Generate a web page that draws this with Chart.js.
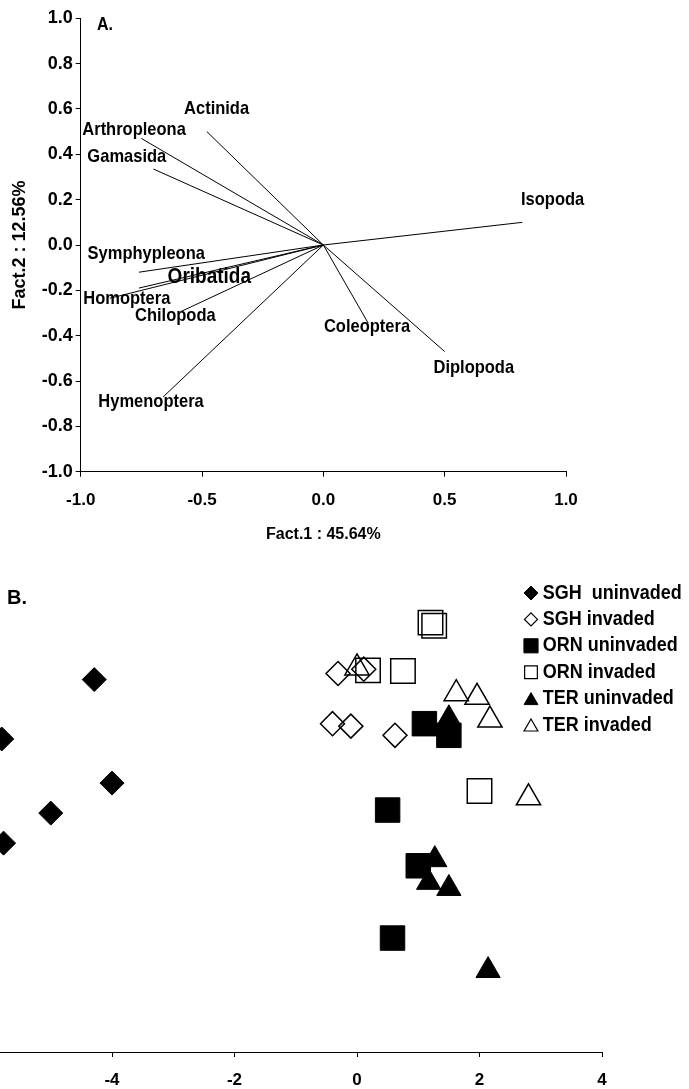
<!DOCTYPE html>
<html>
<head>
<meta charset="utf-8">
<script src="https://cdn.jsdelivr.net/npm/chart.js@4.4.0/dist/chart.umd.min.js"></script>
<style>
  html, body { margin: 0; padding: 0; background: #fff; overflow: hidden; }
  #wrap { position: relative; width: 689px; height: 1089px; overflow: hidden; background: #fff; }
  #chartA { position: absolute; left: 0; top: 0; }
  #chartB { position: absolute; left: -40px; top: 570px; }
</style>
</head>
<body>
<div id="wrap">
  <canvas id="chartA" width="689" height="560" style="width:689px;height:560px"></canvas>
  <canvas id="chartB" width="729" height="519" style="width:729px;height:519px"></canvas>
</div>
<script>
// A. loadings of each taxon on factor 1 and factor 2
const taxa = ["Actinida", "Arthropleona", "Gamasida", "Symphypleona", "Oribatida", "Homoptera",
  "Chilopoda", "Hymenoptera", "Isopoda", "Coleoptera", "Diplopoda"];
const fact1 = [-0.48, -0.75, -0.70, -0.76, -0.76, -0.88, -0.59, -0.66, 0.82, 0.185, 0.50];
const fact2 = [0.50, 0.47, 0.335, -0.12, -0.19, -0.235, -0.295, -0.67, 0.10, -0.345, -0.47];
// where each name is written, in factor units
const labelX = [-0.44, -0.78, -0.81, -0.73, -0.47, -0.81, -0.61, -0.71, 0.945, 0.18, 0.62];
const labelY = [0.60, 0.51, 0.39, -0.04, -0.14, -0.235, -0.31, -0.69, 0.20, -0.36, -0.54];

// B. site scores
const groups = ["SGH  uninvaded", "SGH invaded", "ORN uninvaded", "ORN invaded", "TER uninvaded", "TER invaded"];
const sghUninvX = [-4.29, -5.80, -4.00, -5.00, -5.77];
const sghUninvY = [2.08, 1.11, 0.39, -0.10, -0.59];
const sghInvX = [-0.31, 0.11, -0.40, -0.10, 0.62];
const sghInvY = [2.18, 2.25, 1.36, 1.32, 1.17];
const ornUninvX = [1.10, 1.50, 0.50, 1.00, 0.58];
const ornUninvY = [1.36, 1.17, -0.05, -0.96, -2.14];
const ornInvX = [1.20, 1.26, 0.18, 0.75, 2.00];
const ornInvY = [3.01, 2.96, 2.23, 2.22, 0.26];
const terUninvX = [1.50, 1.27, 1.17, 1.50, 2.14];
const terUninvY = [1.44, -0.86, -1.23, -1.33, -2.67];
const terInvX = [0.00, 1.62, 1.96, 2.17, 2.80];
const terInvY = [2.27, 1.85, 1.79, 1.42, 0.15];

const family = '"Liberation Sans", Arial, Helvetica, sans-serif';

function fmt1(v) {
  if (Math.abs(v) < 1e-9) return "0.0";
  return v.toFixed(1);
}

// ---------- panel A ----------
const vectorSets = taxa.map((name, i) => ({
  label: name,
  data: [{ x: 0, y: 0 }, { x: fact1[i], y: fact2[i] }],
  showLine: true,
  borderColor: "#000",
  borderWidth: 1,
  pointRadius: 0,
  pointHoverRadius: 0,
}));

const taxonLabels = {
  id: "taxonLabels",
  afterDatasetsDraw(chart) {
    const { ctx, scales } = chart;
    ctx.save();
    ctx.fillStyle = "#000";
    ctx.textAlign = "center";
    ctx.textBaseline = "middle";
    taxa.forEach((name, i) => {
      const size = name === "Oribatida" ? 19 : 16.5;
      ctx.font = "bold " + size + "px " + family;
      ctx.save();
      ctx.translate(scales.x.getPixelForValue(labelX[i]), scales.y.getPixelForValue(labelY[i]));
      ctx.scale(1, 1.15);
      ctx.fillText(name, 0, 0);
      ctx.restore();
    });
    ctx.textAlign = "left";
    ctx.font = "bold 16px " + family;
    ctx.save();
    ctx.translate(97, 25);
    ctx.scale(1, 1.15);
    ctx.fillText("A.", 0, 0);
    ctx.restore();
    ctx.restore();
  },
};

const axisGrid = {
  display: true,
  drawOnChartArea: false,
  drawTicks: true,
  tickLength: 5,
  color: "#000",
  lineWidth: 1,
};
const axisBorder = { display: true, color: "#000", width: 1 };

new Chart(document.getElementById("chartA"), {
  type: "scatter",
  data: { datasets: vectorSets },
  options: {
    responsive: false,
    animation: false,
    events: [],
    layout: { padding: { left: 0, top: 18.3, right: 123, bottom: 0 } },
    plugins: { legend: { display: false }, tooltip: { enabled: false } },
    scales: {
      x: {
        type: "linear",
        min: -1,
        max: 1,
        ticks: {
          stepSize: 0.5,
          color: "#000",
          padding: 13,
          font: { family: family, size: 17, weight: "bold" },
          callback: fmt1,
        },
        grid: axisGrid,
        border: axisBorder,
        title: {
          display: true,
          text: "Fact.1 : 45.64%",
          color: "#000",
          font: { family: family, size: 16, weight: "bold" },
          padding: { top: 0, bottom: 15.4 },
        },
        afterFit(scale) {
          scale.height = 88.3;
        },
      },
      y: {
        type: "linear",
        min: -1,
        max: 1,
        ticks: {
          stepSize: 0.2,
          color: "#000",
          padding: 3,
          font: { family: family, size: 18, weight: "bold" },
          callback: fmt1,
        },
        grid: axisGrid,
        border: axisBorder,
        title: {
          display: true,
          text: "Fact.2 : 12.56%",
          color: "#000",
          font: { family: family, size: 18, weight: "bold" },
          padding: { top: 9.4, bottom: 0 },
        },
        afterFit(scale) {
          scale.width = 80.7;
        },
      },
    },
  },
  plugins: [taxonLabels],
});

// ---------- panel B ----------
function zip(xs, ys) {
  return xs.map((x, i) => ({ x: x, y: ys[i] }));
}

function group(i, xs, ys, style, filled, r, legendR) {
  return {
    label: groups[i],
    data: zip(xs, ys),
    pointStyle: style,
    pointRadius: r,
    pointHoverRadius: r,
    pointBorderWidth: filled ? 1 : 1.5,
    pointBackgroundColor: filled ? "#000" : "rgba(0,0,0,0)",
    pointBorderColor: "#000",
    showLine: false,
    filled: filled,
    legendR: legendR,
  };
}

const siteSets = [
  group(0, sghUninvX, sghUninvY, "rectRot", true, 12, 7),
  group(1, sghInvX, sghInvY, "rectRot", false, 12, 6.5),
  group(2, ornUninvX, ornUninvY, "rect", true, 17.3, 10),
  group(3, ornInvX, ornInvY, "rect", false, 17.3, 9),
  group(4, terUninvX, terUninvY, "triangle", true, 14, 8),
  group(5, terInvX, terInvY, "triangle", false, 14, 8),
];

const groupLegend = {
  id: "groupLegend",
  afterDraw(chart) {
    const ctx = chart.ctx;
    ctx.save();
    chart.data.datasets.forEach((ds, i) => {
      const yPos = 23 + i * 26.4;
      ctx.fillStyle = ds.filled ? "#000" : "rgba(0,0,0,0)";
      ctx.strokeStyle = "#000";
      ctx.lineWidth = ds.filled ? 1 : 1.2;
      Chart.helpers.drawPoint(ctx, {
        pointStyle: ds.pointStyle,
        radius: ds.legendR,
        borderWidth: ctx.lineWidth,
        rotation: 0,
      }, 571, ds.pointStyle === "triangle" ? yPos + 2 : yPos);
      ctx.fillStyle = "#000";
      ctx.textAlign = "left";
      ctx.textBaseline = "middle";
      ctx.font = "bold 18px " + family;
      ctx.save();
      ctx.translate(582.7, yPos);
      ctx.scale(1, 1.12);
      ctx.fillText(ds.label, 0, 0);
      ctx.restore();
    });
    ctx.font = "bold 20px " + family;
    ctx.textAlign = "left";
    ctx.textBaseline = "middle";
    ctx.fillText("B.", 47, 28);
    ctx.restore();
  },
};

new Chart(document.getElementById("chartB"), {
  type: "scatter",
  data: { datasets: siteSets },
  options: {
    responsive: false,
    animation: false,
    events: [],
    layout: { padding: { left: 29.5, top: 22.6, right: 87, bottom: 0 } },
    plugins: { legend: { display: false }, tooltip: { enabled: false } },
    scales: {
      x: {
        type: "linear",
        min: -6,
        max: 4,
        ticks: {
          stepSize: 2,
          color: "#000",
          padding: 12.8,
          font: { family: family, size: 17, weight: "bold" },
        },
        grid: axisGrid,
        border: axisBorder,
        afterFit(scale) {
          scale.height = 37;
        },
      },
      y: {
        type: "linear",
        display: false,
        min: -4,
        max: 3.5,
      },
    },
  },
  plugins: [groupLegend],
});
</script>
</body>
</html>
